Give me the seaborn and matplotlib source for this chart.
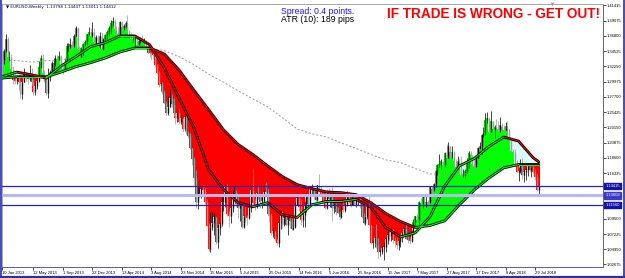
import numpy as np
import matplotlib
matplotlib.use("Agg")
import matplotlib.pyplot as plt
import matplotlib.transforms as mtransforms
from matplotlib.collections import LineCollection
from matplotlib.lines import Line2D
import seaborn as sns

sns.set_style("white")
plt.rcParams['font.family'] = ['DejaVu Sans']

# ---------------- data (weekly EURUSD bars, week 0 = 13 Jan 2013) ----------------
first_open = 1.3365
close = [
    1.3316, 1.3456, 1.3635, 1.3364, 1.3364, 1.3190, 1.3020, 1.3003, 1.3075, 1.2990,
    1.2818, 1.2993, 1.3113, 1.3050, 1.3030, 1.3115, 1.2995, 1.2838, 1.2930, 1.3003,
    1.3220, 1.3345, 1.3125, 1.3010, 1.2830, 1.3065, 1.3140, 1.3280, 1.3280, 1.3343,
    1.3335, 1.3380, 1.3220, 1.3180, 1.3298, 1.3525, 1.3525, 1.3555, 1.3550, 1.3685,
    1.3805, 1.3490, 1.3365, 1.3495, 1.3555, 1.3590, 1.3705, 1.3740, 1.3675, 1.3745,
    1.3590, 1.3670, 1.3540, 1.3675, 1.3485, 1.3635, 1.3690, 1.3740, 1.3805, 1.3875,
    1.3910, 1.3780, 1.3750, 1.3705, 1.3885, 1.3815, 1.3830, 1.3870, 1.3755, 1.3695,
    1.3630, 1.3635, 1.3645, 1.3540, 1.3605, 1.3645, 1.3595, 1.3605, 1.3525, 1.3430,
    1.3425, 1.3410, 1.3400, 1.3240, 1.3130, 1.2950, 1.2960, 1.2830, 1.2685, 1.2525,
    1.2625, 1.2760, 1.2670, 1.2525, 1.2455, 1.2525, 1.2390, 1.2450, 1.2290, 1.2465,
    1.2225, 1.2185,
    1.2000, 1.1840, 1.1560, 1.1205, 1.1290, 1.1315, 1.1390, 1.1380, 1.1195, 1.0845,
    1.0495, 1.0825, 1.0890, 1.0970, 1.0600, 1.0805, 1.0870, 1.1200, 1.1200, 1.1445,
    1.1015, 1.0985, 1.1110, 1.1260, 1.1350, 1.1165, 1.1110, 1.1160, 1.0830, 1.0985,
    1.0980, 1.0965, 1.1105, 1.1385, 1.1185, 1.1150, 1.1340, 1.1300, 1.1195, 1.1210,
    1.1355, 1.1350, 1.1015, 1.1005, 1.0740, 1.0770, 1.0645, 1.0590, 1.0880, 1.0990,
    1.0870, 1.0965,
    1.0860, 1.0925, 1.0915, 1.0795, 1.0830, 1.1155, 1.1255, 1.1130, 1.0935, 1.1000,
    1.1155, 1.1270, 1.1170, 1.1390, 1.1400, 1.1285, 1.1225, 1.1450, 1.1405, 1.1310,
    1.1220, 1.1115, 1.1365, 1.1250, 1.1280, 1.1115, 1.1135, 1.1055, 1.1040, 1.0975,
    1.1175, 1.1085, 1.1160, 1.1325, 1.1195, 1.1155, 1.1235, 1.1155, 1.1225, 1.1240,
    1.1200, 1.0975, 1.0885, 1.0985, 1.1140, 1.0850, 1.0590, 1.0590, 1.0665, 1.0560,
    1.0450, 1.0455, 1.0520,
    1.0530, 1.0645, 1.0705, 1.0695, 1.0780, 1.0640, 1.0615, 1.0560, 1.0620, 1.0670,
    1.0740, 1.0800, 1.0650, 1.0640, 1.0615, 1.0725, 1.0895, 1.0995, 1.0930, 1.1205,
    1.1185, 1.1280, 1.1195, 1.1200, 1.1195, 1.1425, 1.1400, 1.1470, 1.1665, 1.1750,
    1.1775, 1.1820, 1.1760, 1.1925, 1.1860, 1.2035, 1.1945, 1.1950, 1.1815, 1.1730,
    1.1820, 1.1780, 1.1605, 1.1610, 1.1665, 1.1795, 1.1935, 1.1895, 1.1770, 1.1745,
    1.1860, 1.2005,
    1.2030, 1.2200, 1.2225, 1.2425, 1.2460, 1.2250, 1.2405, 1.2295, 1.2315, 1.2305,
    1.2290, 1.2350, 1.2325, 1.2280, 1.2330, 1.2290, 1.2130, 1.1960, 1.1940, 1.1770,
    1.1650, 1.1660, 1.1770, 1.1605, 1.1655, 1.1685, 1.1745, 1.1685, 1.1720, 1.1655,
    1.1570, 1.1380, 1.1441,
]
high = [
    1.3405, 1.3480, 1.3711, 1.3660, 1.3450, 1.3410, 1.3225, 1.3110, 1.3100, 1.3110,
    1.3000, 1.3000, 1.3200, 1.3145, 1.3110, 1.3245, 1.3195, 1.3030, 1.2985, 1.3060,
    1.3305, 1.3395, 1.3415, 1.3175, 1.3110, 1.3205, 1.3175, 1.3300, 1.3345, 1.3400,
    1.3400, 1.3450, 1.3395, 1.3230, 1.3345, 1.3570, 1.3575, 1.3645, 1.3600, 1.3705,
    1.3830, 1.3810, 1.3525, 1.3510, 1.3575, 1.3620, 1.3710, 1.3810, 1.3800, 1.3895,
    1.3800, 1.3690, 1.3690, 1.3740, 1.3740, 1.3645, 1.3710, 1.3775, 1.3825, 1.3915,
    1.3967, 1.3935, 1.3835, 1.3810, 1.3905, 1.3905, 1.3865, 1.3905, 1.3993, 1.3775,
    1.3735, 1.3670, 1.3675, 1.3670, 1.3615, 1.3660, 1.3700, 1.3645, 1.3620, 1.3530,
    1.3445, 1.3445, 1.3435, 1.3420, 1.3260, 1.3160, 1.2995, 1.2995, 1.2870, 1.2705,
    1.2790, 1.2885, 1.2810, 1.2750, 1.2535, 1.2575, 1.2600, 1.2530, 1.2455, 1.2500,
    1.2570, 1.2255,
    1.2225, 1.1970, 1.1870, 1.1680, 1.1425, 1.1535, 1.1445, 1.1450, 1.1430, 1.1245,
    1.0890, 1.1045, 1.1050, 1.1030, 1.0975, 1.0850, 1.0895, 1.1270, 1.1290, 1.1465,
    1.1465, 1.1060, 1.1385, 1.1385, 1.1435, 1.1380, 1.1280, 1.1215, 1.1205, 1.1000,
    1.1130, 1.1000, 1.1215, 1.1390, 1.1714, 1.1245, 1.1345, 1.1460, 1.1300, 1.1275,
    1.1385, 1.1495, 1.1390, 1.1110, 1.1040, 1.0830, 1.0755, 1.0655, 1.0980, 1.1045,
    1.1060, 1.0990,
    1.0985, 1.0970, 1.0985, 1.0960, 1.0935, 1.1195, 1.1375, 1.1275, 1.1245, 1.1045,
    1.1215, 1.1340, 1.1315, 1.1410, 1.1465, 1.1400, 1.1340, 1.1455, 1.1616, 1.1440,
    1.1350, 1.1250, 1.1375, 1.1415, 1.1300, 1.1425, 1.1185, 1.1185, 1.1120, 1.1060,
    1.1195, 1.1235, 1.1175, 1.1365, 1.1335, 1.1240, 1.1325, 1.1275, 1.1255, 1.1260,
    1.1255, 1.1215, 1.1040, 1.0990, 1.1145, 1.1300, 1.0850, 1.0640, 1.0700, 1.0875,
    1.0670, 1.0480, 1.0550,
    1.0610, 1.0685, 1.0775, 1.0775, 1.0830, 1.0800, 1.0680, 1.0680, 1.0640, 1.0700,
    1.0760, 1.0830, 1.0905, 1.0690, 1.0680, 1.0775, 1.0950, 1.0995, 1.1025, 1.1215,
    1.1265, 1.1285, 1.1285, 1.1295, 1.1225, 1.1445, 1.1445, 1.1490, 1.1680, 1.1775,
    1.1910, 1.1845, 1.1780, 1.1940, 1.2070, 1.2090, 1.2030, 1.2035, 1.1960, 1.1835,
    1.1880, 1.1860, 1.1880, 1.1690, 1.1690, 1.1860, 1.1960, 1.1960, 1.1880, 1.1865,
    1.1880, 1.2025,
    1.2090, 1.2215, 1.2325, 1.2535, 1.2540, 1.2475, 1.2555, 1.2405, 1.2355, 1.2445,
    1.2415, 1.2475, 1.2375, 1.2345, 1.2395, 1.2415, 1.2290, 1.2135, 1.1995, 1.1995,
    1.1830, 1.1725, 1.1840, 1.1850, 1.1675, 1.1720, 1.1790, 1.1790, 1.1745, 1.1750,
    1.1700, 1.1620, 1.1445,
]
low = [
    1.3255, 1.3255, 1.3440, 1.3340, 1.3300, 1.3140, 1.2965, 1.2955, 1.2955, 1.2880,
    1.2750, 1.2745, 1.2990, 1.3000, 1.2955, 1.3000, 1.2950, 1.2795, 1.2795, 1.2885,
    1.2985, 1.3200, 1.3090, 1.2990, 1.2805, 1.2755, 1.3010, 1.3135, 1.3180, 1.3225,
    1.3270, 1.3320, 1.3200, 1.3105, 1.3160, 1.3290, 1.3450, 1.3505, 1.3480, 1.3520,
    1.3680, 1.3480, 1.3295, 1.3360, 1.3400, 1.3530, 1.3545, 1.3690, 1.3625, 1.3660,
    1.3575, 1.3545, 1.3530, 1.3505, 1.3475, 1.3475, 1.3575, 1.3640, 1.3685, 1.3710,
    1.3825, 1.3750, 1.3705, 1.3670, 1.3705, 1.3805, 1.3770, 1.3795, 1.3755, 1.3645,
    1.3615, 1.3585, 1.3505, 1.3525, 1.3540, 1.3570, 1.3590, 1.3570, 1.3500, 1.3420,
    1.3365, 1.3335, 1.3330, 1.3215, 1.3130, 1.2920, 1.2860, 1.2815, 1.2680, 1.2500,
    1.2500, 1.2625, 1.2615, 1.2480, 1.2360, 1.2395, 1.2360, 1.2360, 1.2245, 1.2265,
    1.2220, 1.2160,
    1.1995, 1.1755, 1.1460, 1.1115, 1.1100, 1.1270, 1.1260, 1.1275, 1.1175, 1.0840,
    1.0462, 1.0460, 1.0780, 1.0715, 1.0570, 1.0520, 1.0710, 1.0845, 1.1060, 1.1130,
    1.0985, 1.0820, 1.0885, 1.1050, 1.1210, 1.1130, 1.0955, 1.0915, 1.0810, 1.0810,
    1.0905, 1.0850, 1.0945, 1.1055, 1.1155, 1.1085, 1.1105, 1.1245, 1.1105, 1.1105,
    1.1175, 1.1325, 1.0990, 1.0895, 1.0705, 1.0675, 1.0620, 1.0565, 1.0525, 1.0800,
    1.0805, 1.0845,
    1.0855, 1.0710, 1.0810, 1.0775, 1.0775, 1.0810, 1.1150, 1.1065, 1.0860, 1.0820,
    1.0820, 1.1055, 1.1145, 1.1140, 1.1325, 1.1235, 1.1215, 1.1215, 1.1385, 1.1295,
    1.1200, 1.1100, 1.1100, 1.1240, 1.1130, 1.0910, 1.1030, 1.1000, 1.1030, 1.0950,
    1.0960, 1.1050, 1.1045, 1.1145, 1.1195, 1.1120, 1.1150, 1.1150, 1.1120, 1.1160,
    1.1110, 1.0960, 1.0870, 1.0860, 1.0940, 1.0850, 1.0570, 1.0520, 1.0530, 1.0510,
    1.0365, 1.0400, 1.0420,
    1.0341, 1.0455, 1.0580, 1.0620, 1.0620, 1.0590, 1.0525, 1.0495, 1.0490, 1.0525,
    1.0600, 1.0715, 1.0650, 1.0595, 1.0570, 1.0600, 1.0720, 1.0850, 1.0840, 1.0870,
    1.1110, 1.1110, 1.1175, 1.1130, 1.1120, 1.1190, 1.1310, 1.1370, 1.1430, 1.1610,
    1.1730, 1.1690, 1.1660, 1.1725, 1.1825, 1.1860, 1.1860, 1.1860, 1.1715, 1.1670,
    1.1730, 1.1730, 1.1575, 1.1575, 1.1555, 1.1640, 1.1710, 1.1810, 1.1730, 1.1720,
    1.1720, 1.1850,
    1.1985, 1.1920, 1.2165, 1.2205, 1.2380, 1.2205, 1.2245, 1.2260, 1.2155, 1.2270,
    1.2260, 1.2240, 1.2285, 1.2215, 1.2270, 1.2285, 1.2055, 1.1940, 1.1820, 1.1750,
    1.1645, 1.1510, 1.1640, 1.1540, 1.1505, 1.1530, 1.1590, 1.1650, 1.1575, 1.1640,
    1.1530, 1.1365, 1.1301,
]

# moving averages (every 8 weeks)
ma_weeks = [0, 8, 16, 24, 32, 40, 48, 56, 64, 72, 80, 88, 96, 104, 112, 120, 128, 136,
            144, 152, 160, 168, 176, 184, 192, 200, 208, 216, 224, 232, 240, 248, 256,
            264, 272, 280, 288, 291]
fast_ma = [1.307, 1.314, 1.310, 1.305, 1.323, 1.337, 1.352, 1.358, 1.368, 1.368,
           1.355, 1.320, 1.275, 1.231, 1.168, 1.139, 1.119, 1.113, 1.119, 1.101,
           1.097, 1.116, 1.121, 1.121, 1.124, 1.112, 1.082, 1.068, 1.074, 1.098,
           1.144, 1.174, 1.185, 1.203, 1.217, 1.211, 1.186, 1.180]
slow_ma = [1.305, 1.307, 1.307, 1.307, 1.314, 1.322, 1.328, 1.335, 1.344, 1.350,
           1.350, 1.341, 1.317, 1.287, 1.258, 1.228, 1.206, 1.191, 1.174, 1.158,
           1.146, 1.140, 1.135, 1.134, 1.131, 1.119, 1.103, 1.091, 1.082, 1.085,
           1.092, 1.116, 1.138, 1.156, 1.171, 1.176, 1.176, 1.176]
long_ma = [1.332, 1.331, 1.329, 1.331, 1.332, 1.335, 1.338, 1.341, 1.346, 1.349,
           1.350, 1.346, 1.337, 1.325, 1.311, 1.299, 1.286, 1.274, 1.262, 1.246,
           1.229, 1.222, 1.217, 1.208, 1.200, 1.191, 1.183, 1.179, 1.170, 1.162,
           1.161, 1.161, 1.164, 1.168, 1.173, 1.176, 1.177, 1.179]

level_lines = [1.14415, 1.13008, 1.11560]
level_labels = ["1.14415", "1.13008", "1.11560"]

y_tick_values = [1.41415, 1.39075, 1.36800, 1.34525, 1.32250, 1.29975, 1.27700, 1.25425,
                 1.23150, 1.20875, 1.18600, 1.16325, 1.09500, 1.07225, 1.04950, 1.02675]
y_tick_labels = ["1.41415", "1.39075", "1.36800", "1.34525", "1.32250", "1.29975", "1.27700",
                 "1.25425", "1.23150", "1.20875", "1.18600", "1.16325", "1.09500", "1.07225",
                 "1.04950", "1.02675"]
x_tick_weeks = [0, 17, 33, 49, 65, 81, 97, 113, 129, 145, 161, 177, 193, 209, 225, 241, 257, 273, 289]
x_tick_labels = ["10 Jan 2013", "12 May 2013", "1 Sep 2013", "22 Dec 2013", "13 Apr 2014",
                 "3 Aug 2014", "23 Nov 2014", "15 Mar 2015", "5 Jul 2015", "25 Oct 2015",
                 "14 Feb 2016", "5 Jun 2016", "25 Sep 2016", "15 Jan 2017", "7 May 2017",
                 "27 Aug 2017", "17 Dec 2017", "8 Apr 2018", "29 Jul 2018"]

header_text = "\u25bc EURUSD,Weekly  1.13798 1.14447 1.13011 1.14412"
spread_text = "Spread: 0.4 points."
atr_text = "ATR (10): 189 pips"
warning_text = "IF TRADE IS WRONG - GET OUT!"

# ---------------- figure ----------------
W, H = 625, 278
fig = plt.figure(figsize=(W / 100, H / 100), dpi=100)
fig.patch.set_facecolor("white")
ax = fig.add_axes([2 / W, (H - 267) / H, 601 / W, 263.5 / H])
ax.set_facecolor("white")
ax.set_xlim(0.2, 325.8)
ax.set_ylim(1.0230, 1.4164)

weeks = np.arange(len(close))
c = np.array(close)
o = np.r_[first_open, c[:-1]]
hi = np.maximum(np.array(high), np.maximum(o, c))
lo = np.minimum(np.array(low), np.minimum(o, c))
fast_w = np.interp(weeks, ma_weeks, fast_ma)
slow_w = np.interp(weeks, ma_weeks, slow_ma)

# histogram fills between price and the slow average
bull = c >= slow_w
ax.bar(weeks[bull], (c - slow_w)[bull], bottom=slow_w[bull], width=1.0,
       color="#00ff00", linewidth=0, antialiased=False, zorder=1)
ax.bar(weeks[~bull], (slow_w - c)[~bull], bottom=c[~bull], width=1.0,
       color="#ff0000", linewidth=0, antialiased=False, zorder=1)
warn = (c < fast_w) & (fast_w > slow_w)
base = np.maximum(c, slow_w)
ax.bar(weeks[warn], (fast_w - base)[warn], bottom=base[warn], width=1.0,
       color="#dcfafa", linewidth=0, antialiased=False, zorder=1)

# candles
up = c >= o
cols = np.where(up, "#111111", "#a0a0a0")
ax.vlines(weeks, lo, hi, colors=cols, linewidth=0.55, zorder=3)
ax.vlines(weeks, np.minimum(o, c), np.maximum(o, c), colors=cols, linewidth=1.0, zorder=3)

# long dotted average
sns.lineplot(x=ma_weeks, y=long_ma, ax=ax, color="#9a9a9a", linewidth=0.7,
             linestyle=(0, (2, 2)), legend=False, zorder=4, sort=False)

# double-stroked moving averages
for ma in (slow_ma, fast_ma):
    sns.lineplot(x=ma_weeks, y=ma, ax=ax, color="black", linewidth=2.0,
                 legend=False, zorder=5, sort=False)
    pts = np.column_stack([ma_weeks, ma])
    segs = np.stack([pts[:-1], pts[1:]], axis=1)
    seg_cols = ["#00ff00" if b >= a else "#ff0000" for a, b in zip(ma[:-1], ma[1:])]
    ax.add_collection(LineCollection(segs, colors=seg_cols, linewidths=0.75,
                                     zorder=6, capstyle="round"))

# horizontal levels
ax.axhline(level_lines[0], color="#2424c8", linewidth=0.9, zorder=7)
ax.axhline(level_lines[1], color="#b8b8f2", linewidth=2.2, zorder=7)
ax.axhline(level_lines[2], color="#2424b0", linewidth=0.9, zorder=7)

ax.set_xlabel("")
ax.set_ylabel("")

# axes / ticks
ax.yaxis.tick_right()
ax.set_yticks(y_tick_values)
ax.set_yticklabels(y_tick_labels, family="Liberation Sans")
ax.set_xticks(x_tick_weeks)
ax.set_xticklabels(x_tick_labels, family="Liberation Sans")
for lab in ax.get_xticklabels():
    lab.set_ha("left")
ax.tick_params(axis="y", labelsize=3.0, length=1.8, width=0.5, pad=1.0,
               colors="#000000", right=True, left=False)
ax.tick_params(axis="x", labelsize=3.0, length=1.8, width=0.5, pad=1.0,
               colors="#000000", bottom=True)
for s in ax.spines.values():
    s.set_color("#5a5ab4")
    s.set_linewidth(0.7)
ax.spines["top"].set_color("#a8a8a8")
ax.spines["left"].set_color("#a8a8a8")

# price boxes on the right axis
tr = mtransforms.blended_transform_factory(ax.transAxes, ax.transData)
box_cols = ["#1212a8", "#3a3acc", "#1212a8"]
for v, lab, bc in zip(level_lines, level_labels, box_cols):
    ax.text(1.004, v, lab, transform=tr, fontsize=3.0, color="white", va="center",
            ha="left", zorder=10, clip_on=False, family="Liberation Sans",
            bbox=dict(boxstyle="square,pad=0.3", facecolor=bc, edgecolor=bc))

# chart-shift marker at the top
ax.plot([298], [1.4158], marker="v", markersize=2.6, color="#9a9a9a",
        markeredgewidth=0, zorder=10, clip_on=False)

# texts
ax.text(0.006, 0.993, header_text, transform=ax.transAxes, fontsize=3.0,
        color="#000060", va="top", ha="left", zorder=10)
fig.text(281 / W, 1 - 11 / H, spread_text, fontsize=6.3, color="#1a1aff",
         family="Liberation Sans", va="center", ha="left")
fig.text(281 / W, 1 - 20 / H, atr_text, fontsize=6.3, color="black",
         family="Liberation Sans", va="center", ha="left")
fig.text(387 / W, 1 - 14.5 / H, warning_text, fontsize=9.8, color="#ff0000",
         family="Liberation Sans", fontweight="bold", va="center", ha="left")

# window frame (left, right, bottom)
frame_col = "#4646c8"
fig.add_artist(Line2D([0.8 / W, 0.8 / W], [0, 1], transform=fig.transFigure,
                      color=frame_col, linewidth=1.4))
fig.add_artist(Line2D([1 - 1.0 / W, 1 - 1.0 / W], [0, 1], transform=fig.transFigure,
                      color=frame_col, linewidth=1.4))
fig.add_artist(Line2D([0, 1], [1.2 / H, 1.2 / H], transform=fig.transFigure,
                      color="#30309a", linewidth=1.6))

fig.savefig("out.png", dpi=100)
